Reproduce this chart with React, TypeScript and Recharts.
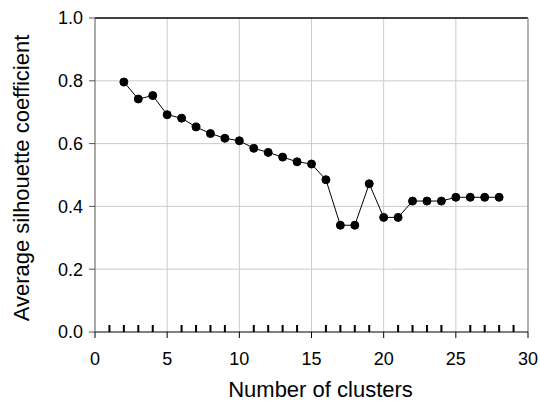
import React from 'react'
import {
  LineChart,
  Line,
  XAxis,
  YAxis,
  ReferenceLine,
} from 'recharts'

const clusters = [2, 3, 4, 5, 6, 7, 8, 9, 10, 11, 12, 13, 14, 15, 16, 17, 18, 19, 20, 21, 22, 23, 24, 25, 26, 27, 28]
const silhouette = [
  0.796, 0.742, 0.753, 0.692, 0.681, 0.653, 0.632, 0.617, 0.609, 0.585, 0.572, 0.557, 0.542, 0.535,
  0.485, 0.34, 0.34, 0.472, 0.365, 0.365, 0.417, 0.417, 0.417, 0.429, 0.429, 0.429, 0.429,
]
const xTicks = Array.from({ length: 31 }, (_, i) => i)
const yTicks = [0, 0.2, 0.4, 0.6, 0.8, 1.0]
const gridX = [5, 10, 15, 20, 25]
const gridY = [0.2, 0.4, 0.6, 0.8]

const data = clusters.map((k, i) => ({ k, s: silhouette[i] }))

const FONT = 'Liberation Sans, Arial, sans-serif'

// majors get a label and a tick below the axis, minors a short thick tick inside
const XTick = (props: any) => {
  const { x, y, payload } = props
  const v = payload.value as number
  if (v % 5 === 0) {
    return (
      <g>
        <line x1={x} x2={x} y1={y} y2={y + 6} stroke="#000" />
        <text x={x} y={y + 33} textAnchor="middle" fontSize={18} fontFamily={FONT} fill="#000">
          {v}
        </text>
      </g>
    )
  }
  return <line x1={x} x2={x} y1={y} y2={y - 7} stroke="#000" strokeWidth={2} />
}

export default function App() {
  return (
    <div style={{ position: 'absolute', left: 0, top: 0, background: '#fff' }}>
      <LineChart width={540} height={405} data={data} margin={{ top: 18, right: 12, bottom: 0, left: 0 }}>
        {gridX.map((g) => (
          <ReferenceLine key={'gx' + g} x={g} stroke="#cccccc" />
        ))}
        {gridY.map((g) => (
          <ReferenceLine key={'gy' + g} y={g} stroke="#cccccc" />
        ))}
        <ReferenceLine y={1} stroke="#000" strokeWidth={1.5} />
        <ReferenceLine x={30} stroke="#999" strokeWidth={1.5} />
        <XAxis
          dataKey="k"
          type="number"
          domain={[0, 30]}
          ticks={xTicks}
          interval={0}
          height={73}
          tickSize={0}
          tickMargin={0}
          tickLine={false}
          tick={<XTick />}
          axisLine={{ stroke: '#000' }}
          label={{
            value: 'Number of clusters',
            position: 'center',
            dx: 9,
            dy: 21,
            fontSize: 22,
            fontFamily: FONT,
            fill: '#000',
          }}
        />
        <YAxis
          type="number"
          domain={[0, 1]}
          ticks={yTicks}
          interval={0}
          width={95}
          tickSize={6}
          tickMargin={6}
          tickFormatter={(v: number) => v.toFixed(1)}
          tick={{ fontSize: 18, fontFamily: FONT, fill: '#000' }}
          tickLine={{ stroke: '#555' }}
          axisLine={{ stroke: '#555' }}
          label={{
            value: 'Average silhouette coefficient',
            angle: -90,
            position: 'center',
            dx: -26,
            dy: 3,
            fontSize: 22,
            fontFamily: FONT,
            fill: '#000',
          }}
        />
        <Line
          dataKey="s"
          type="linear"
          stroke="#000"
          strokeWidth={1}
          dot={{ r: 4, fill: '#000', stroke: '#000', strokeWidth: 1 }}
          isAnimationActive={false}
        />
      </LineChart>
    </div>
  )
}
